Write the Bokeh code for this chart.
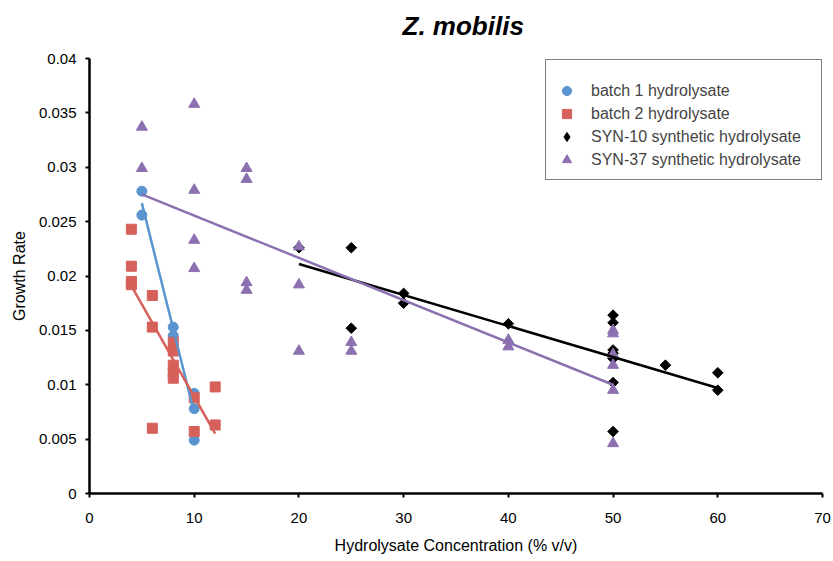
from bokeh.plotting import figure
from bokeh.models import Range1d, FixedTicker, Legend, LegendItem, Title
from bokeh.embed import file_html
from bokeh.resources import INLINE

# ---------------- data ----------------
title_text = "Z. mobilis"

b1_x = [5, 5, 8, 8, 10, 10, 10]
b1_y = [0.0278, 0.0256, 0.0153, 0.0145, 0.0092, 0.0078, 0.0049]

b2_x = [4, 4, 4, 4, 6, 6, 6, 8, 8, 8, 8, 8, 10, 10, 12, 12]
b2_y = [0.0243, 0.0209, 0.0195, 0.0192, 0.0182, 0.0153, 0.0060, 0.0139, 0.0131,
        0.0118, 0.0111, 0.0106, 0.0088, 0.0057, 0.0098, 0.0063]

syn10_x = [20, 25, 25, 30, 30, 40, 50, 50, 50, 50, 50, 50, 50, 55, 60, 60]
syn10_y = [0.0226, 0.0226, 0.0152, 0.0184, 0.0175, 0.0156, 0.0164, 0.0157, 0.0132,
           0.0129, 0.0124, 0.0102, 0.0057, 0.0118, 0.0111, 0.0095]

syn37_x = [5, 5, 10, 10, 10, 10, 15, 15, 15, 15, 20, 20, 20, 25, 25, 40, 40,
           50, 50, 50, 50, 50, 50]
syn37_y = [0.0337, 0.0299, 0.0358, 0.0279, 0.0233, 0.0207, 0.0299, 0.0289, 0.0194,
           0.0187, 0.0227, 0.0192, 0.0131, 0.0139, 0.0131, 0.0141, 0.0135,
           0.0150, 0.0147, 0.0128, 0.0118, 0.0095, 0.0046]

# linear trendline end points
b1_trend_x = [5, 10]
b1_trend_y = [0.0267, 0.0074]
b2_trend_x = [4, 12]
b2_trend_y = [0.0191, 0.0055]
syn10_trend_x = [20, 60]
syn10_trend_y = [0.0211, 0.0097]
syn37_trend_x = [5, 50]
syn37_trend_y = [0.0275, 0.0100]

x_ticks = [0, 10, 20, 30, 40, 50, 60, 70]
y_ticks = [0, 0.005, 0.01, 0.015, 0.02, 0.025, 0.03, 0.035, 0.04]
y_tick_labels = ["0", "0.005", "0.01", "0.015", "0.02", "0.025", "0.03", "0.035", "0.04"]

series_names = ["batch 1 hydrolysate", "batch 2 hydrolysate",
                "SYN-10 synthetic hydrolysate", "SYN-37 synthetic hydrolysate"]

BLUE = "#5a95cf"
RED = "#d6605a"
BLACK = "#000000"
PURPLE = "#8c70b0"
FONT = "Liberation Sans"

p = figure(width=833, height=561, output_backend="svg", toolbar_location=None,
           x_range=Range1d(0, 70), y_range=Range1d(0, 0.04),
           min_border_left=89, min_border_right=11, min_border_top=58,
           min_border_bottom=68)

# spacer between the frame and the title (added first -> closest to the frame)
spacer = Title(text=" ", text_font_size="1px", standoff=7)
p.add_layout(spacer, "above")

main_title = Title(text=title_text, text_font=FONT, text_font_size="26px",
                   text_font_style="bold italic", text_color="black",
                   align="left", offset=313, vertical_align="top", standoff=12)
p.add_layout(main_title, "above")

p.outline_line_color = None
p.grid.visible = False
p.background_fill_color = "white"

for ax in (p.xaxis[0], p.yaxis[0]):
    ax.axis_line_width = 2.5
    ax.axis_line_color = "black"
    ax.major_tick_line_width = 2
    ax.major_tick_in = 0
    ax.major_tick_out = 4
    ax.minor_tick_line_color = None
    ax.major_label_text_font = FONT
    ax.major_label_text_font_size = "15px"
    ax.major_label_text_color = "black"
    ax.axis_label_text_font = FONT
    ax.axis_label_text_font_size = "16px"
    ax.axis_label_text_font_style = "normal"
    ax.axis_label_text_color = "black"

p.xaxis.ticker = FixedTicker(ticks=x_ticks)
p.yaxis.ticker = FixedTicker(ticks=y_ticks)
p.yaxis.major_label_overrides = {t: lab for t, lab in zip(y_ticks, y_tick_labels)}
p.xaxis.axis_label = "Hydrolysate Concentration (% v/v)"
p.yaxis.axis_label = "Growth Rate"
p.xaxis.major_label_standoff = 15
p.xaxis.axis_label_standoff = 11
p.yaxis.major_label_standoff = 9
p.yaxis.axis_label_standoff = 8

r1 = p.scatter(b1_x, b1_y, marker="circle", size=10, fill_color=BLUE, line_color=BLUE)
r2 = p.scatter(b2_x, b2_y, marker="square", size=10, fill_color=RED, line_color=RED)
r3 = p.scatter(syn10_x, syn10_y, marker="square", angle=0.785398, size=7.5,
               fill_color=BLACK, line_color=BLACK)
# hidden twin used only for the legend swatch (diamond shape)
r3_key = p.scatter(syn10_x, syn10_y, marker="diamond", size=12,
                   fill_color=BLACK, line_color=BLACK, visible=False)
r4 = p.scatter(syn37_x, syn37_y, marker="triangle", size=11, fill_color=PURPLE, line_color=PURPLE)

p.line(b1_trend_x, b1_trend_y, line_color=BLUE, line_width=2.5)
p.line(b2_trend_x, b2_trend_y, line_color=RED, line_width=2.5)
p.line(syn10_trend_x, syn10_trend_y, line_color=BLACK, line_width=2.5)
p.line(syn37_trend_x, syn37_trend_y, line_color=PURPLE, line_width=2.5)

legend = Legend(items=[LegendItem(label=series_names[0], renderers=[r1]),
                       LegendItem(label=series_names[1], renderers=[r2]),
                       LegendItem(label=series_names[2], renderers=[r3_key]),
                       LegendItem(label=series_names[3], renderers=[r4])],
                location=(456, 313), margin=0)
legend.border_line_color = "black"
legend.border_line_width = 1.5
legend.background_fill_alpha = 1
legend.inactive_fill_alpha = 0
legend.label_text_font = FONT
legend.label_text_font_size = "16px"
legend.padding = 8
legend.spacing = 0
legend.glyph_width = 25
legend.glyph_height = 23
legend.label_height = 23
legend.label_width = 222
legend.label_standoff = 12
legend.title = " "
legend.title_text_font_size = "6px"
legend.title_standoff = 5
p.add_layout(legend)

open("out.html", "w").write(file_html(p, INLINE))
